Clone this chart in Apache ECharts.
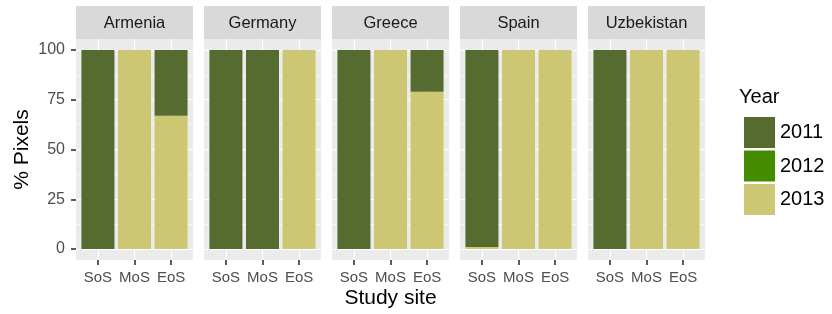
<!DOCTYPE html>
<html>
<head>
<meta charset="utf-8">
<script src="https://cdn.jsdelivr.net/npm/echarts@6/dist/echarts.min.js"></script>
<style>
  html, body { margin: 0; padding: 0; background: #fff; }
  #main { width: 832px; height: 314px; }
</style>
</head>
<body>
<div id="main"></div>
<script>
// data
const sites = ['Armenia', 'Germany', 'Greece', 'Spain', 'Uzbekistan'];
const stages = ['SoS', 'MoS', 'EoS'];
const years = ['2011', '2012', '2013'];
// % pixels per stage (SoS, MoS, EoS) for each site
const y2011 = [[100, 0, 33], [100, 100, 0], [100, 0, 21], [99, 0, 0], [100, 0, 0]];
const y2012 = [[0, 0, 0], [0, 0, 0], [0, 0, 0], [0, 0, 0], [0, 0, 0]];
const y2013 = [[0, 100, 67], [0, 0, 100], [0, 100, 79], [1, 100, 100], [0, 100, 100]];
const yTicks = [0, 25, 50, 75, 100];
const yMinor = [12.5, 37.5, 62.5, 87.5];

const colors = { '2011': '#556B2F', '2012': '#458B00', '2013': '#CDC673' };
const values = { '2011': y2011, '2012': y2012, '2013': y2013 };

const font = 'Liberation Sans, Arial, sans-serif';
const panelLeft = 76, panelStep = 128, panelW = 117;
const panelTop = 39, panelH = 221;
const stripTop = 6, stripH = 33;
const tickStyle = { color: '#333', width: 1.6 };

const chart = echarts.init(document.getElementById('main'), null, { renderer: 'canvas' });

const grid = [], xAxis = [], yAxis = [], series = [], graphic = [];

sites.forEach(function (site, i) {
  const left = panelLeft + panelStep * i;
  grid.push({
    left: left, top: panelTop, width: panelW, height: panelH,
    show: true, backgroundColor: '#EBEBEB', borderWidth: 0
  });
  xAxis.push({
    type: 'value', gridIndex: i, min: -0.6, max: 2.6, position: 'bottom',
    axisLine: { show: false, onZero: false },
    axisTick: { show: true, customValues: [0, 1, 2], length: 5, lineStyle: tickStyle },
    axisLabel: {
      customValues: [0, 1, 2], margin: 10, color: '#4D4D4D', fontSize: 15, fontFamily: font,
      formatter: function (v) { return stages[Math.round(v)]; }
    },
    splitLine: { show: true, lineStyle: { color: '#fff', width: 1.2 } }
  });
  yAxis.push({
    type: 'value', gridIndex: i, min: -5.5, max: 105.5, position: 'left',
    axisLine: { show: false, onZero: false },
    axisTick: { show: i === 0, customValues: yTicks, length: 5, lineStyle: tickStyle },
    axisLabel: { show: i === 0, customValues: yTicks, margin: 11, color: '#4D4D4D', fontSize: 16, fontFamily: font },
    splitLine: { show: true, lineStyle: { color: '#fff', width: 1.2 } },
    name: i === 0 ? '% Pixels' : '',
    nameLocation: 'middle', nameGap: 43, nameRotate: 90,
    nameTextStyle: { color: '#000', fontSize: 21, fontFamily: font }
  });
  yAxis.push({
    type: 'value', gridIndex: i, min: -5.5, max: 105.5, position: 'left',
    axisLine: { show: false, onZero: false },
    axisTick: { show: false, customValues: yMinor },
    axisLabel: { show: false, customValues: yMinor },
    splitLine: { show: true, lineStyle: { color: '#fff', width: 0.6 } }
  });
  // stack bottom-to-top: 2013, 2012, 2011 (ggplot order)
  // value first in each point so the stack runs on the y dimension
  ['2013', '2012', '2011'].forEach(function (yr) {
    series.push({
      type: 'bar', name: yr, xAxisIndex: i, yAxisIndex: 2 * i,
      stack: 'site' + i, barWidth: 33,
      encode: { x: 1, y: 0 },
      itemStyle: { color: colors[yr] },
      emphasis: { disabled: true },
      data: values[yr][i].map(function (v, k) { return [v, k]; })
    });
  });
  // facet strip
  graphic.push({
    type: 'rect', left: left, top: stripTop,
    shape: { width: panelW, height: stripH },
    style: { fill: '#D9D9D9' }
  });
  graphic.push({
    type: 'text', x: left + panelW / 2, y: stripTop + stripH / 2 + 1,
    style: { text: site, fill: '#1A1A1A', fontSize: 16.5, fontFamily: font, align: 'center', verticalAlign: 'middle' }
  });
});

graphic.push({
  type: 'text', x: panelLeft + (panelStep * 4 + panelW) / 2, y: 298,
  style: { text: 'Study site', fill: '#000', fontSize: 21, fontFamily: font, align: 'center', verticalAlign: 'middle' }
});
graphic.push({
  type: 'text', x: 739, y: 97,
  style: { text: 'Year', fill: '#000', fontSize: 20, fontFamily: font, align: 'left', verticalAlign: 'middle' }
});

chart.setOption({
  animation: false,
  grid: grid,
  xAxis: xAxis,
  yAxis: yAxis,
  legend: {
    data: years, orient: 'vertical', left: 739, top: 112,
    itemWidth: 31, itemHeight: 31, itemGap: 2.5, icon: 'rect',
    selectedMode: false,
    textStyle: { color: '#000', fontSize: 20, fontFamily: font }
  },
  graphic: graphic,
  series: series
});
</script>
</body>
</html>
